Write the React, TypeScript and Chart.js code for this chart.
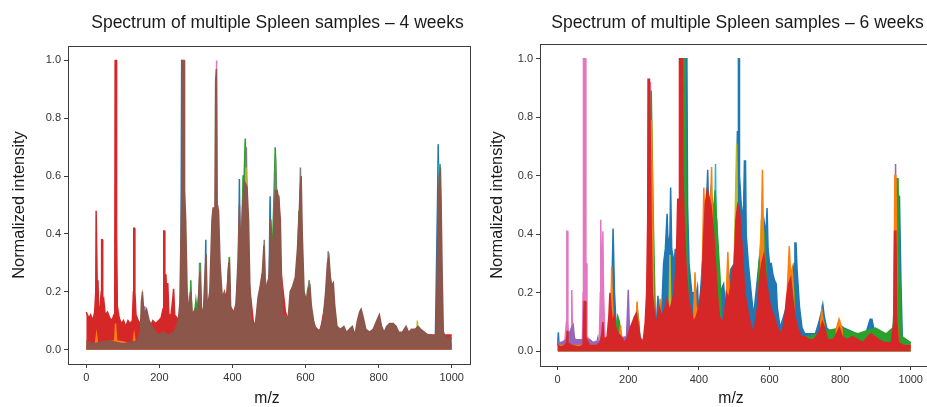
import React, { useEffect, useRef } from 'react';
import { Chart, registerables } from 'chart.js';

Chart.register(...registerables);

type Pt = [number, number];

// ---------- text ----------
const TITLE_4W = 'Spectrum of multiple Spleen samples – 4 weeks';
const TITLE_6W = 'Spectrum of multiple Spleen samples – 6 weeks';
const X_LABEL = 'm/z';
const Y_LABEL = 'Normalized intensity';

// ---------- ticks ----------
const xTicks = [0, 200, 400, 600, 800, 1000];
const yTicks = [0, 0.2, 0.4, 0.6, 0.8, 1.0];

// ---------- tab10 colours ----------
const COLORS: Record<string, string> = {
  blue: '#1f77b4', orange: '#ff7f0e', green: '#2ca02c', red: '#d62728', purple: '#9467bd',
  brown: '#8c564b', pink: '#e377c2', gray: '#7f7f7f', olive: '#bcbd22', cyan: '#17becf',
};

// ---------- 4 weeks: envelopes [m/z, intensity] ----------
const wk4Blue: Pt[] = [[0,0.02],[256,0.02],[259,0.2],[261,1.0],[262,1.0],[263,0.3],[266,0.02],[322,0.02],[324,0.1],[327,0.38],[329,0.1],[331,0.02],[405,0.02],[412,0.2],[417,0.3],[419,0.59],[421,0.3],[430,0.3],[433,0.6],[435,0.3],[440,0.02],[496,0.02],[500,0.2],[503,0.53],[506,0.25],[509,0.02],[955,0.02],[961,0.5],[963,0.71],[965,0.71],[967,0.3],[972,0.02],[1000,0.02]];
const wk4Cyan: Pt[] = [[0,0.01],[962,0.01],[965,0.64],[968,0.64],[971,0.3],[974,0.01],[1000,0.01]];
const wk4Green: Pt[] = [[0,0.02],[218,0.02],[221,0.22],[224,0.02],[280,0.02],[283,0.1],[286,0.24],[289,0.12],[296,0.12],[300,0.17],[304,0.12],[309,0.2],[312,0.3],[315,0.15],[318,0.02],[386,0.02],[388,0.15],[391,0.32],[394,0.15],[397,0.02],[420,0.02],[424,0.3],[429,0.6],[432,0.6],[435,0.73],[437,0.73],[440,0.5],[445,0.2],[448,0.02],[505,0.02],[508,0.3],[513,0.5],[517,0.7],[519,0.7],[522,0.5],[527,0.52],[532,0.2],[535,0.02],[575,0.02],[578,0.3],[582,0.48],[585,0.3],[590,0.02],[602,0.02],[605,0.2],[608,0.22],[612,0.02],[655,0.02],[658,0.2],[664,0.28],[670,0.2],[675,0.02],[1000,0.02]];
const wk4Gray: Pt[] = [[0,0.02],[306,0.02],[308,0.1],[310,0.3],[313,0.1],[315,0.02],[430,0.02],[433,0.3],[436,0.62],[438,0.7],[441,0.4],[444,0.02],[482,0.02],[484,0.2],[487,0.38],[490,0.2],[492,0.02],[512,0.02],[515,0.4],[518,0.66],[521,0.4],[524,0.02],[580,0.02],[583,0.4],[586,0.63],[589,0.4],[592,0.02],[605,0.02],[607,0.15],[610,0.24],[613,0.15],[615,0.02],[656,0.02],[659,0.2],[662,0.34],[665,0.2],[668,0.02],[961,0.02],[964,0.3],[968,0.64],[971,0.3],[974,0.02],[1000,0.02]];
const wk4Olive: Pt[] = [[0,0.01],[434,0.01],[437,0.63],[440,0.01],[584,0.01],[586,0.58],[588,0.01],[903,0.01],[906,0.1],[910,0.01],[1000,0.01]];
const wk4Pink: Pt[] = [[0,0.01],[354,0.01],[355,0.5],[356,1.0],[357,1.0],[358,0.5],[360,0.01],[1000,0.01]];
const wk4Purple: Pt[] = [[0,0.01],[157,0.01],[160,0.15],[163,0.01],[1000,0.01]];
const wk4Red: Pt[] = [[0,0.13],[3,0.12],[8,0.11],[12,0.12],[18,0.1],[23,0.13],[26,0.2],[27,0.48],[29,0.48],[30,0.22],[32,0.24],[34,0.13],[38,0.15],[41,0.2],[42,0.38],[44,0.38],[45,0.15],[48,0.17],[52,0.12],[58,0.13],[64,0.11],[70,0.1],[76,0.12],[78,0.2],[79,1.0],[82,1.0],[83,0.4],[85,0.15],[90,0.11],[96,0.09],[102,0.1],[108,0.08],[114,0.1],[120,0.09],[126,0.1],[129,0.2],[130,0.42],[132,0.42],[133,0.2],[136,0.12],[142,0.1],[148,0.09],[155,0.12],[162,0.1],[170,0.09],[176,0.08],[182,0.1],[190,0.09],[198,0.1],[205,0.11],[210,0.14],[212,0.41],[214,0.41],[215,0.15],[218,0.26],[220,0.18],[223,0.23],[226,0.12],[232,0.12],[237,0.18],[239,0.21],[242,0.12],[248,0.11],[255,0.1],[262,0.1],[272,0.08],[280,0.1],[285,0.2],[288,0.12],[300,0.08],[320,0.1],[340,0.12],[360,0.12],[385,0.2],[390,0.3],[393,0.15],[420,0.1],[440,0.3],[460,0.06],[478,0.22],[485,0.28],[490,0.2],[510,0.3],[524,0.48],[530,0.3],[545,0.13],[560,0.08],[575,0.2],[583,0.4],[590,0.2],[610,0.1],[640,0.06],[660,0.2],[680,0.06],[720,0.05],[800,0.05],[900,0.05],[960,0.05],[965,0.3],[970,0.3],[975,0.05],[985,0.05],[1000,0.05]];
const wk4Orange: Pt[] = [[0,0.02],[25,0.02],[28,0.05],[31,0.02],[78,0.03],[80,0.09],[83,0.03],[128,0.02],[131,0.05],[134,0.02],[150,0.02],[153,0.2],[156,0.03],[1000,0.02]];
const wk4Brown: Pt[] = [[0,0.03],[20,0.02],[60,0.03],[100,0.02],[140,0.03],[148,0.06],[151,0.17],[154,0.19],[158,0.12],[165,0.14],[172,0.1],[180,0.08],[190,0.06],[200,0.05],[210,0.06],[225,0.05],[240,0.06],[252,0.1],[256,0.16],[260,0.45],[262,0.6],[263,1.0],[268,1.0],[269,0.55],[272,0.45],[276,0.2],[282,0.12],[286,0.2],[290,0.12],[298,0.14],[303,0.12],[308,0.2],[311,0.27],[314,0.15],[320,0.12],[325,0.26],[328,0.33],[331,0.14],[338,0.2],[344,0.45],[347,0.49],[352,0.49],[354,0.93],[356,0.97],[357,0.97],[358,0.5],[362,0.48],[366,0.3],[372,0.18],[378,0.2],[384,0.15],[389,0.28],[392,0.3],[395,0.15],[402,0.12],[410,0.16],[415,0.3],[419,0.5],[423,0.35],[428,0.5],[433,0.58],[437,0.57],[440,0.56],[444,0.45],[448,0.2],[452,0.1],[458,0.08],[464,0.1],[470,0.18],[476,0.22],[482,0.27],[486,0.36],[489,0.25],[494,0.2],[500,0.25],[505,0.45],[510,0.3],[514,0.45],[518,0.55],[522,0.55],[527,0.52],[531,0.45],[535,0.2],[540,0.1],[545,0.12],[552,0.1],[558,0.2],[565,0.22],[572,0.25],[578,0.35],[582,0.45],[585,0.55],[588,0.6],[591,0.4],[596,0.2],[602,0.17],[608,0.21],[612,0.22],[616,0.15],[622,0.1],[630,0.06],[640,0.07],[648,0.1],[655,0.2],[660,0.3],[664,0.32],[668,0.25],[672,0.22],[676,0.23],[680,0.15],[686,0.08],[695,0.07],[705,0.08],[712,0.06],[720,0.07],[728,0.08],[735,0.05],[742,0.1],[748,0.13],[752,0.14],[758,0.11],[765,0.07],[775,0.06],[785,0.07],[795,0.1],[802,0.12],[808,0.08],[815,0.06],[822,0.08],[830,0.09],[840,0.09],[848,0.08],[855,0.06],[865,0.06],[875,0.08],[882,0.06],[890,0.07],[900,0.07],[908,0.08],[915,0.07],[925,0.06],[935,0.05],[945,0.05],[952,0.04],[958,0.06],[962,0.45],[966,0.6],[969,0.63],[971,0.5],[974,0.25],[977,0.06],[985,0.04],[1000,0.04]];

// ---------- 6 weeks: envelopes [m/z, intensity] ----------
const wk6Blue: Pt[] = [[0,0.02],[2,0.065],[4,0.02],[110,0.02],[114,0.045],[117,0.02],[148,0.02],[150,0.1],[155,0.3],[157,0.42],[159,0.42],[161,0.2],[165,0.1],[170,0.02],[255,0.02],[260,0.1],[268,0.2],[275,0.08],[280,0.1],[284,0.19],[288,0.1],[295,0.15],[300,0.3],[305,0.35],[310,0.47],[313,0.35],[318,0.4],[320,0.56],[323,0.35],[330,0.3],[333,0.35],[336,0.3],[355,0.6],[360,0.95],[362,1.0],[366,1.0],[368,0.5],[372,0.3],[380,0.2],[393,0.2],[396,0.22],[400,0.12],[410,0.3],[420,0.45],[425,0.62],[428,0.45],[434,0.55],[440,0.5],[445,0.5],[450,0.45],[455,0.3],[460,0.2],[470,0.23],[475,0.15],[490,0.28],[500,0.3],[505,0.45],[509,0.75],[511,0.75],[512,1.0],[514,1.0],[515,0.6],[520,0.5],[526,0.45],[529,0.65],[532,0.65],[534,0.4],[540,0.3],[548,0.2],[555,0.12],[570,0.3],[578,0.4],[584,0.45],[590,0.4],[593,0.49],[596,0.35],[600,0.3],[605,0.3],[610,0.26],[615,0.24],[619,0.23],[622,0.15],[630,0.08],[660,0.2],[665,0.25],[670,0.3],[672,0.37],[675,0.37],[678,0.28],[685,0.15],[692,0.08],[700,0.06],[730,0.06],[740,0.1],[748,0.14],[751,0.16],[755,0.12],[762,0.08],[780,0.06],[800,0.09],[810,0.08],[830,0.07],[845,0.06],[860,0.05],[875,0.07],[885,0.11],[890,0.11],[895,0.08],[905,0.06],[930,0.05],[950,0.04],[960,0.3],[964,0.53],[968,0.53],[972,0.25],[976,0.05],[990,0.03],[1000,0.03]];
const wk6Cyan: Pt[] = [[0,0.01],[442,0.01],[444,0.3],[447,0.64],[450,0.3],[452,0.01],[1000,0.01]];
const wk6Pink: Pt[] = [[0,0.03],[20,0.03],[25,0.1],[26,0.41],[28,0.41],[29,0.1],[31,0.04],[36,0.04],[38,0.08],[40,0.21],[42,0.06],[50,0.04],[70,0.04],[72,0.2],[73,1.0],[79,1.0],[80,0.3],[81,0.3],[83,0.05],[100,0.03],[118,0.04],[121,0.2],[122,0.45],[124,0.2],[128,0.41],[130,0.2],[134,0.04],[200,0.03],[250,0.02],[258,0.3],[263,0.92],[266,0.5],[270,0.02],[1000,0.01]];
const wk6Purple: Pt[] = [[0,0.03],[10,0.03],[24,0.04],[44,0.09],[48,0.04],[90,0.04],[100,0.03],[140,0.04],[195,0.05],[200,0.21],[203,0.08],[210,0.05],[230,0.05],[240,0.04],[250,0.02],[952,0.02],[954,0.3],[957,0.64],[959,0.3],[962,0.02],[1000,0.02]];
const wk6Olive: Pt[] = [[0,0.01],[150,0.01],[154,0.22],[158,0.01],[313,0.01],[315,0.1],[318,0.33],[321,0.1],[323,0.01],[495,0.01],[500,0.3],[505,0.6],[507,0.71],[509,0.5],[512,0.3],[515,0.01],[568,0.01],[572,0.3],[577,0.45],[582,0.3],[585,0.01],[954,0.01],[957,0.3],[959,0.5],[962,0.3],[965,0.01],[1000,0.01]];
const wk6Green: Pt[] = [[0,0.02],[160,0.02],[165,0.08],[170,0.12],[175,0.1],[180,0.02],[216,0.02],[220,0.1],[225,0.15],[230,0.1],[234,0.02],[258,0.02],[262,0.6],[265,0.89],[267,0.89],[270,0.5],[276,0.15],[280,0.02],[346,0.02],[350,0.5],[354,1.0],[361,1.0],[364,0.5],[370,0.2],[375,0.02],[435,0.02],[440,0.45],[446,0.55],[450,0.45],[460,0.25],[465,0.02],[478,0.02],[482,0.3],[486,0.2],[490,0.02],[565,0.02],[570,0.3],[585,0.4],[590,0.3],[595,0.02],[655,0.02],[660,0.25],[665,0.28],[670,0.2],[675,0.02],[700,0.05],[745,0.06],[750,0.12],[760,0.07],[800,0.08],[850,0.06],[900,0.08],[930,0.06],[950,0.08],[958,0.3],[961,0.59],[964,0.59],[967,0.3],[975,0.05],[1000,0.03]];
const wk6Orange: Pt[] = [[0,0.02],[148,0.02],[150,0.05],[153,0.29],[156,0.1],[158,0.02],[174,0.02],[175,0.05],[178,0.09],[181,0.05],[183,0.02],[219,0.02],[222,0.1],[225,0.17],[228,0.1],[231,0.02],[258,0.02],[262,0.5],[266,0.79],[269,0.5],[272,0.2],[275,0.02],[284,0.02],[286,0.1],[290,0.18],[294,0.1],[296,0.02],[384,0.02],[386,0.15],[389,0.27],[392,0.15],[394,0.02],[406,0.02],[410,0.3],[414,0.56],[418,0.4],[425,0.4],[433,0.5],[436,0.63],[439,0.4],[443,0.02],[476,0.02],[478,0.2],[482,0.34],[486,0.2],[488,0.02],[572,0.02],[575,0.3],[580,0.62],[584,0.3],[587,0.02],[647,0.02],[650,0.2],[656,0.36],[660,0.25],[664,0.28],[668,0.2],[671,0.02],[743,0.02],[745,0.1],[748,0.14],[752,0.1],[754,0.02],[788,0.02],[790,0.08],[797,0.11],[805,0.08],[807,0.02],[950,0.02],[952,0.05],[955,0.6],[958,0.6],[962,0.1],[965,0.02],[1000,0.02]];
const wk6Red: Pt[] = [[0,0.02],[10,0.015],[20,0.02],[25,0.03],[27,0.07],[29,0.03],[40,0.02],[60,0.015],[72,0.02],[75,0.17],[78,0.17],[80,0.05],[90,0.02],[110,0.02],[120,0.03],[125,0.06],[128,0.1],[131,0.04],[140,0.05],[145,0.12],[148,0.2],[151,0.15],[155,0.1],[160,0.12],[165,0.08],[172,0.06],[180,0.05],[190,0.03],[198,0.05],[205,0.08],[212,0.1],[218,0.12],[223,0.13],[228,0.09],[235,0.04],[242,0.03],[248,0.1],[252,0.2],[255,0.45],[256,0.93],[260,0.93],[262,0.74],[265,0.4],[268,0.2],[275,0.12],[282,0.1],[288,0.15],[295,0.12],[302,0.14],[310,0.18],[316,0.14],[322,0.16],[330,0.2],[336,0.3],[340,0.52],[344,0.52],[345,1.0],[353,1.0],[355,0.6],[358,0.45],[363,0.3],[370,0.18],[378,0.14],[385,0.1],[393,0.12],[400,0.15],[408,0.22],[414,0.4],[418,0.5],[423,0.55],[428,0.53],[434,0.5],[438,0.45],[442,0.4],[447,0.3],[452,0.2],[458,0.12],[465,0.1],[472,0.12],[478,0.2],[484,0.18],[490,0.22],[496,0.28],[500,0.3],[505,0.45],[510,0.5],[515,0.48],[520,0.4],[525,0.3],[530,0.2],[537,0.15],[545,0.1],[553,0.06],[560,0.1],[566,0.15],[572,0.25],[578,0.3],[584,0.33],[590,0.25],[596,0.2],[603,0.15],[610,0.13],[618,0.1],[626,0.07],[634,0.06],[642,0.1],[648,0.18],[654,0.23],[660,0.25],[666,0.18],[672,0.12],[680,0.08],[690,0.05],[700,0.05],[712,0.04],[725,0.04],[738,0.06],[745,0.08],[750,0.1],[756,0.08],[765,0.04],[780,0.04],[790,0.06],[798,0.08],[806,0.05],[820,0.04],[835,0.05],[850,0.04],[865,0.03],[878,0.05],[888,0.06],[898,0.05],[910,0.04],[925,0.03],[945,0.03],[952,0.1],[954,0.41],[958,0.41],[961,0.1],[965,0.03],[980,0.02],[1000,0.02]];

// drawing order: first entry is at the bottom, last entry on top
const wk4Series: { color: string; data: Pt[] }[] = [
  { color: COLORS.blue, data: wk4Blue },
  { color: COLORS.cyan, data: wk4Cyan },
  { color: COLORS.green, data: wk4Green },
  { color: COLORS.gray, data: wk4Gray },
  { color: COLORS.olive, data: wk4Olive },
  { color: COLORS.pink, data: wk4Pink },
  { color: COLORS.purple, data: wk4Purple },
  { color: COLORS.red, data: wk4Red },
  { color: COLORS.orange, data: wk4Orange },
  { color: COLORS.brown, data: wk4Brown },
];
const wk6Series: { color: string; data: Pt[] }[] = [
  { color: COLORS.blue, data: wk6Blue },
  { color: COLORS.cyan, data: wk6Cyan },
  { color: COLORS.pink, data: wk6Pink },
  { color: COLORS.purple, data: wk6Purple },
  { color: COLORS.olive, data: wk6Olive },
  { color: COLORS.green, data: wk6Green },
  { color: COLORS.orange, data: wk6Orange },
  { color: COLORS.red, data: wk6Red },
];

const FONT = '"Liberation Sans", Arial, Helvetica, sans-serif';

interface PanelCfg {
  title: string;
  series: { color: string; data: Pt[] }[];
  width: number;
  padLeft: number;
  padRight: number;
  padTop: number;
  padBottom: number;
  titleX: number;
  yLabelX: number;
  xLabelX: number;
}

function decorPlugin(cfg: PanelCfg) {
  return {
    id: 'decor',
    afterDraw(chart: any) {
      const { ctx, chartArea: a } = chart;
      ctx.save();
      ctx.strokeStyle = '#3c3c3c';
      ctx.lineWidth = 1;
      ctx.strokeRect(Math.round(a.left) + 0.5, Math.round(a.top) + 0.5, Math.round(a.right - a.left), Math.round(a.bottom - a.top));
      ctx.fillStyle = '#1a1a1a';
      ctx.textAlign = 'center';
      ctx.textBaseline = 'alphabetic';
      ctx.font = `17.5px ${FONT}`;
      ctx.fillText(cfg.title, cfg.titleX, 28);
      ctx.font = `15.7px ${FONT}`;
      ctx.fillText(X_LABEL, cfg.xLabelX, 403);
      ctx.translate(cfg.yLabelX, (a.top + a.bottom) / 2);
      ctx.rotate(-Math.PI / 2);
      ctx.font = `16.4px ${FONT}`;
      ctx.textBaseline = 'middle';
      ctx.fillText(Y_LABEL, 0, 0);
      ctx.restore();
    },
  };
}

function Panel({ cfg, left }: { cfg: PanelCfg; left: number }) {
  const ref = useRef<HTMLCanvasElement | null>(null);
  useEffect(() => {
    if (!ref.current) return;
    const n = cfg.series.length;
    const chart = new Chart(ref.current, {
      type: 'line',
      data: {
        datasets: cfg.series.map((s, i) => ({
          data: s.data.map(([x, y]) => ({ x, y })),
          borderColor: s.color,
          backgroundColor: s.color,
          borderWidth: 1.5,
          borderJoinStyle: 'miter',
          pointRadius: 0,
          tension: 0,
          fill: 'origin',
          order: n - i,
        })),
      },
      options: {
        animation: false,
        responsive: false,
        devicePixelRatio: 1,
        events: [],
        layout: { padding: { left: cfg.padLeft, right: cfg.padRight, top: cfg.padTop, bottom: cfg.padBottom } },
        plugins: { legend: { display: false }, tooltip: { enabled: false }, title: { display: false } },
        scales: {
          x: {
            type: 'linear',
            min: -50,
            max: 1050,
            afterFit: (s: any) => { s.height = 30; },
            afterBuildTicks: (s: any) => { s.ticks = xTicks.map((v) => ({ value: v })); },
            grid: { display: true, drawOnChartArea: false, drawTicks: true, tickLength: 4, color: '#3c3c3c' },
            border: { display: false },
            ticks: { color: '#333', font: { family: FONT, size: 11 }, padding: 3, maxRotation: 0, autoSkip: false, callback: (v: any) => String(v) },
          },
          y: {
            type: 'linear',
            min: -0.05,
            max: 1.05,
            afterFit: (s: any) => { s.width = 60; },
            afterBuildTicks: (s: any) => { s.ticks = yTicks.map((v) => ({ value: v })); },
            grid: { display: true, drawOnChartArea: false, drawTicks: true, tickLength: 4, color: '#3c3c3c' },
            border: { display: false },
            ticks: { color: '#333', font: { family: FONT, size: 11 }, padding: 3, autoSkip: false, callback: (v: any) => Number(v).toFixed(1) },
          },
        },
      },
      plugins: [decorPlugin(cfg)],
    } as any);
    return () => chart.destroy();
  }, [cfg]);
  return (
    <canvas
      ref={ref}
      width={cfg.width}
      height={407}
      style={{ position: 'absolute', left, top: 0, width: cfg.width, height: 407 }}
    />
  );
}

const leftCfg: PanelCfg = {
  title: TITLE_4W, series: wk4Series, width: 475,
  padLeft: 8, padRight: 5, padTop: 46, padBottom: 13,
  titleX: 277.5, yLabelX: 19, xLabelX: 267,
};
const rightCfg: PanelCfg = {
  title: TITLE_6W, series: wk6Series, width: 460,
  padLeft: 5, padRight: 6.6, padTop: 44, padBottom: 11,
  titleX: 262.5, yLabelX: 22, xLabelX: 256,
};

export default function App() {
  useEffect(() => {
    document.body.style.margin = '0';
    document.body.style.background = '#ffffff';
  }, []);
  return (
    <div style={{ position: 'relative', width: 927, height: 407, overflow: 'hidden', background: '#fff' }}>
      <Panel cfg={leftCfg} left={0} />
      <Panel cfg={rightCfg} left={475} />
    </div>
  );
}
